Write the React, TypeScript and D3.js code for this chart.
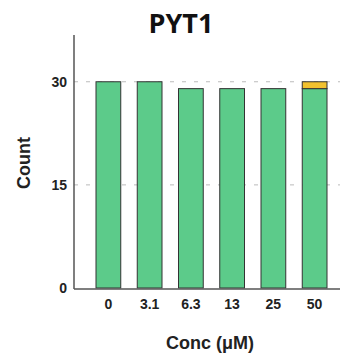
import React from 'react';
import * as d3 from 'd3';

const concs = ['0', '3.1', '6.3', '13', '25', '50'];
const greenCounts = [30, 30, 29, 29, 29, 29];
const yellowCounts = [0, 0, 0, 0, 0, 1];
const yTicks = [0, 15, 30];

const W = 341;
const H = 353;
const left = 74;
const right = 340;
const top = 35;
const bottom = 288;

const App = () => {
  const x = d3.scaleBand<string>().domain(concs).range([96, 327]).paddingInner(0.4);
  const y = d3.scaleLinear().domain([0, 36.8]).range([bottom, top]);
  const stack = concs.map((c, i) => ({ c, g: greenCounts[i], yl: yellowCounts[i] }));
  const font = '"Liberation Sans", Arial, sans-serif';

  return (
    <svg width={W} height={H} style={{ position: 'absolute', left: 0, top: 0 }}>
      <rect width={W} height={H} fill="#fff" />
      <text x={181} y={33} textAnchor="middle" fontFamily='"Open Sans", sans-serif' fontWeight="bold" fontSize={27} fill="#111">PYT1</text>

      {yTicks.filter(t => t > 0).map(t => (
        <line key={t} x1={left} x2={right} y1={y(t)} y2={y(t)} stroke="#bbb" strokeWidth={1} strokeDasharray="4,8" />
      ))}

      {stack.map(d => (
        <g key={d.c}>
          <rect x={x(d.c)} y={y(d.g)} width={x.bandwidth()} height={y(0) - y(d.g)} fill="#5ccb8a" stroke="#333" strokeWidth={1} />
          {d.yl > 0 && (
            <rect x={x(d.c)} y={y(d.g + d.yl)} width={x.bandwidth()} height={y(d.g) - y(d.g + d.yl)} fill="#f2c12e" stroke="#333" strokeWidth={1} />
          )}
        </g>
      ))}

      <line x1={left} x2={left} y1={top} y2={bottom + 1} stroke="#555" strokeWidth={1.5} />
      <line x1={left} x2={right} y1={bottom + 1} y2={bottom + 1} stroke="#555" strokeWidth={1.5} />

      {yTicks.map(t => (
        <text key={t} x={67} y={y(t) + 5} textAnchor="end" fontFamily={font} fontWeight="bold" fontSize={14} fill="#222">{t}</text>
      ))}
      {concs.map(c => (
        <text key={c} x={(x(c) ?? 0) + x.bandwidth() / 2} y={309} textAnchor="middle" fontFamily={font} fontWeight="bold" fontSize={14} fill="#222">{c}</text>
      ))}

      <text transform={`translate(30,163) rotate(-90)`} textAnchor="middle" fontFamily={font} fontWeight="bold" fontSize={18} fill="#222">Count</text>
      <text x={210} y={349} textAnchor="middle" fontFamily={font} fontWeight="bold" fontSize={18} fill="#222">Conc (μM)</text>
    </svg>
  );
};

export default App;
